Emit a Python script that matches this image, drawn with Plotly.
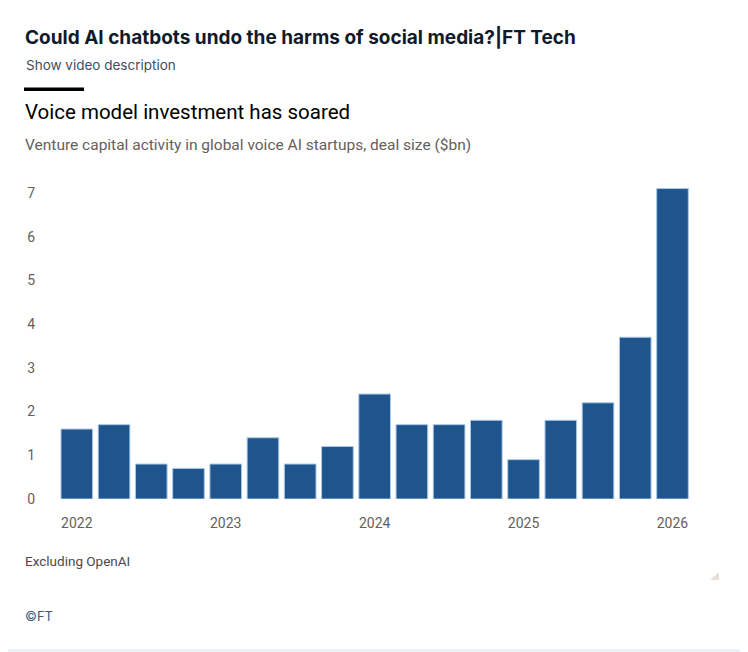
import plotly.graph_objects as go

# =========================
# DATA
# =========================
quarters = [
    "2022 Q1", "2022 Q2", "2022 Q3", "2022 Q4",
    "2023 Q1", "2023 Q2", "2023 Q3", "2023 Q4",
    "2024 Q1", "2024 Q2", "2024 Q3", "2024 Q4",
    "2025 Q1", "2025 Q2", "2025 Q3", "2025 Q4",
    "2026 Q1",
]
deal_size_bn = [1.6, 1.7, 0.8, 0.7, 0.8, 1.4, 0.8, 1.2, 2.4,
                1.7, 1.7, 1.8, 0.9, 1.8, 2.2, 3.7, 7.1]
tick_quarters = ["2022 Q1", "2023 Q1", "2024 Q1", "2025 Q1", "2026 Q1"]
tick_years = ["2022", "2023", "2024", "2025", "2026"]
y_ticks = [0, 1, 2, 3, 4, 5, 6, 7]

# =========================
# PAGE GEOMETRY (pixels)
# the html body has an 8px margin, so the figure is a bit smaller
# and every page position is shifted by OFF
# =========================
OFF = 8
W, H = 748 - OFF, 652 - OFF
L, R, T, B = 47, 53, 167, 153
PW = W - L - R
PH = H - T - B


def px(x):
    return (x - OFF - L) / PW


def py(y):
    return (H - B - (y - OFF)) / PH


fig = go.Figure()
fig.add_trace(go.Bar(
    x=quarters,
    y=deal_size_bn,
    marker=dict(color="#1f558c", line=dict(color="#a9c9ea", width=1)),
    width=0.85,
    hovertemplate="%{x}: $%{y}bn<extra></extra>",
))

TICK = "#66605c"
SANS = "Roboto, Arial, sans-serif"

annotations = [
    dict(text="<b>Could AI chatbots undo the harms of social media?|FT Tech</b>",
         x=px(23), y=py(37), font=dict(family="Inter, Arial", size=19, color="#0f1a2b")),
    dict(text="Show video description",
         x=px(24), y=py(65), font=dict(family="Inter, Arial", size=13.5, color="#3f4d63")),
    dict(text="Voice model investment has soared",
         x=px(23), y=py(112), font=dict(family=SANS, size=20.5, color="#000000")),
    dict(text="Venture capital activity in global voice AI startups, deal size ($bn)",
         x=px(23), y=py(145), font=dict(family=SANS, size=15.5, color=TICK)),
    dict(text="Excluding OpenAI",
         x=px(23), y=py(561), font=dict(family=SANS, size=13.5, color="#4d4845")),
    dict(text="©FT",
         x=px(23), y=py(616), font=dict(family="Inter, Arial", size=13, color="#44577a")),
]
for a in annotations:
    a.update(xref="paper", yref="paper", xanchor="left", yanchor="middle",
             showarrow=False)

shapes = [
    # card border, right and bottom
    dict(type="rect", xref="paper", yref="paper", layer="below",
         x0=px(745), x1=px(748), y0=py(0), y1=py(652),
         fillcolor="#eef2f6", line=dict(width=0)),
    dict(type="rect", xref="paper", yref="paper", layer="below",
         x0=px(0), x1=px(748), y0=py(649), y1=py(652),
         fillcolor="#eef2f6", line=dict(width=0)),
    # black rule above chart title
    dict(type="rect", xref="paper", yref="paper",
         x0=px(24), x1=px(84), y0=py(87.5), y1=py(91),
         fillcolor="black", line=dict(width=0)),
    # resize handle
    dict(type="path", xref="paper", yref="paper",
         path=f"M {px(719)} {py(572)} L {px(719)} {py(580)} L {px(710)} {py(580)} Z",
         fillcolor="#e9ded4", line=dict(width=0)),
]

fig.update_layout(
    width=W, height=H,
    margin=dict(l=L, r=R, t=T, b=B, pad=0),
    paper_bgcolor="white",
    plot_bgcolor="white",
    showlegend=False,
    bargap=0.15,
    annotations=annotations,
    shapes=shapes,
    font=dict(family=SANS, color=TICK),
)

fig.update_xaxes(
    type="category",
    range=[-0.586, 16.605],
    tickmode="array",
    tickvals=tick_quarters,
    ticktext=tick_years,
    tickfont=dict(family=SANS, size=14, color=TICK),
    ticks="",
    ticklabelstandoff=14,
    showgrid=False,
    showline=False,
    zeroline=False,
)

fig.update_yaxes(
    range=[0, 7.41],
    tickmode="array",
    tickvals=y_ticks,
    tickfont=dict(family=SANS, size=14, color=TICK),
    ticks="",
    ticklabelstandoff=19,
    showgrid=False,
    zeroline=False,
    showline=False,
)

fig.write_html("out.html")
